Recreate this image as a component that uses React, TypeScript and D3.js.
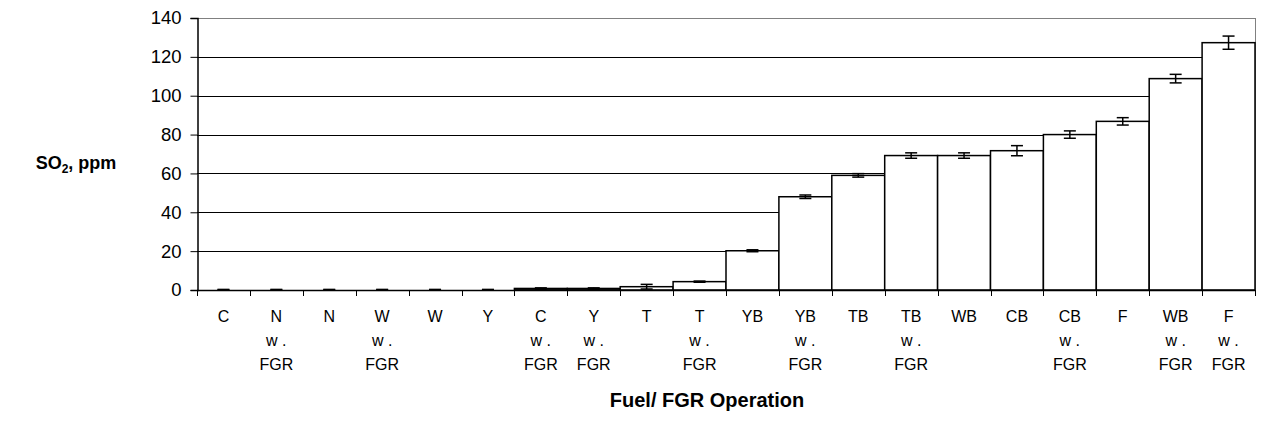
import React, { useEffect, useRef } from 'react';
import * as d3 from 'd3';

// category labels, one entry per line
const labels: string[][] = [
  ['C'], ['N', 'w .', 'FGR'], ['N'], ['W', 'w .', 'FGR'], ['W'], ['Y'],
  ['C', 'w .', 'FGR'], ['Y', 'w .', 'FGR'], ['T'], ['T', 'w .', 'FGR'],
  ['YB'], ['YB', 'w .', 'FGR'], ['TB'], ['TB', 'w .', 'FGR'], ['WB'], ['CB'],
  ['CB', 'w .', 'FGR'], ['F'], ['WB', 'w .', 'FGR'], ['F', 'w .', 'FGR'],
];
const so2 = [0, 0, 0, 0, 0, 0, 0.8, 0.8, 1.7, 4.3, 20.2, 48, 59, 69.2, 69.2, 71.7, 80, 86.8, 108.8, 127.3];
const err = [0.3, 0.3, 0.3, 0.3, 0.3, 0.3, 0.3, 0.3, 1.2, 0.3, 0.5, 0.9, 0.9, 1.4, 1.4, 2.6, 1.9, 1.9, 2.2, 3.4];
const yTicks = [0, 20, 40, 60, 80, 100, 120, 140];

export default function App() {
  const ref = useRef<SVGSVGElement>(null);

  useEffect(() => {
    const svg = d3.select(ref.current);
    svg.selectAll('*').remove();

    const left = 197, right = 1255, top = 18, bottom = 290;
    const x = d3.scaleBand<number>().domain(d3.range(so2.length)).range([left, right]).padding(0);
    const y = d3.scaleLinear().domain([0, 140]).range([bottom, top]);
    const font = 'Arial, "Liberation Sans", sans-serif';

    const g = svg.append('g');

    // gridlines
    g.selectAll('.grid').data(yTicks.slice(1)).join('line')
      .attr('x1', left).attr('x2', right)
      .attr('y1', d => Math.round(y(d)) + 0.5).attr('y2', d => Math.round(y(d)) + 0.5)
      .attr('stroke', d => d === 140 ? '#808080' : '#000').attr('stroke-width', 1);
    // right border
    g.append('line').attr('x1', right + 0.5).attr('x2', right + 0.5)
      .attr('y1', top).attr('y2', bottom).attr('stroke', '#808080');

    // bars
    g.selectAll('.bar').data(so2).join('rect')
      .attr('x', (d, i) => x(i)!)
      .attr('y', d => y(d))
      .attr('width', x.bandwidth())
      .attr('height', d => bottom - y(d))
      .attr('fill', '#fff')
      .attr('stroke', '#000')
      .attr('stroke-width', 1.5);

    // error bars
    const cx = (i: number) => x(i)! + x.bandwidth() / 2;
    const eb = g.selectAll('.err').data(so2).join('g');
    eb.append('line')
      .attr('x1', (d, i) => cx(i)).attr('x2', (d, i) => cx(i))
      .attr('y1', (d, i) => y(d + err[i])).attr('y2', (d, i) => y(Math.max(0, d - err[i])))
      .attr('stroke', '#000').attr('stroke-width', 1.5);
    eb.append('line')
      .attr('x1', (d, i) => cx(i) - 6).attr('x2', (d, i) => cx(i) + 6)
      .attr('y1', (d, i) => y(d + err[i])).attr('y2', (d, i) => y(d + err[i]))
      .attr('stroke', '#000').attr('stroke-width', 1.5);
    eb.append('line')
      .attr('x1', (d, i) => cx(i) - 6).attr('x2', (d, i) => cx(i) + 6)
      .attr('y1', (d, i) => y(Math.max(0, d - err[i]))).attr('y2', (d, i) => y(Math.max(0, d - err[i])))
      .attr('stroke', '#000').attr('stroke-width', 1.5);

    // y axis
    const yAxis = g.append('g').attr('transform', `translate(${left + 0.5},0)`)
      .call(d3.axisLeft(y).tickValues(yTicks).tickSize(7).tickPadding(9));
    yAxis.select('.domain').attr('stroke', '#000').attr('stroke-width', 1.5);
    yAxis.selectAll('line').attr('stroke', '#000');
    yAxis.selectAll('text').attr('font-size', 18.5).attr('font-family', font).attr('fill', '#000');

    // x axis
    g.append('line').attr('x1', left).attr('x2', right)
      .attr('y1', bottom + 0.5).attr('y2', bottom + 0.5).attr('stroke', '#000').attr('stroke-width', 1.5);
    g.selectAll('.xt').data(d3.range(so2.length + 1)).join('line')
      .attr('x1', i => Math.round(left + i * x.step()) + 0.5)
      .attr('x2', i => Math.round(left + i * x.step()) + 0.5)
      .attr('y1', bottom).attr('y2', bottom + 6).attr('stroke', '#000');

    const lab = g.selectAll('.lab').data(labels).join('text')
      .attr('font-family', font).attr('font-size', 16).attr('text-anchor', 'middle')
      .attr('fill', '#000');
    lab.each(function (d, i) {
      const t = d3.select(this);
      d.forEach((s, k) => {
        t.append('tspan').attr('x', cx(i)).attr('y', 322 + k * 24).text(s);
      });
    });

    // axis titles
    const yt = svg.append('text').attr('x', 76).attr('y', 169).attr('text-anchor', 'middle')
      .attr('font-family', font).attr('font-size', 18).attr('font-weight', 'bold');
    yt.append('tspan').text('SO');
    yt.append('tspan').attr('font-size', 12).attr('dy', 4).text('2');
    yt.append('tspan').attr('dy', -4).text(', ppm');

    svg.append('text').attr('x', 707).attr('y', 407).attr('text-anchor', 'middle')
      .attr('font-family', font).attr('font-size', 20).attr('font-weight', 'bold')
      .text('Fuel/ FGR Operation');
  }, []);

  return (
    <svg ref={ref} width={1266} height={422}
      style={{ position: 'absolute', left: 0, top: 0, background: '#fff' }} />
  );
}
